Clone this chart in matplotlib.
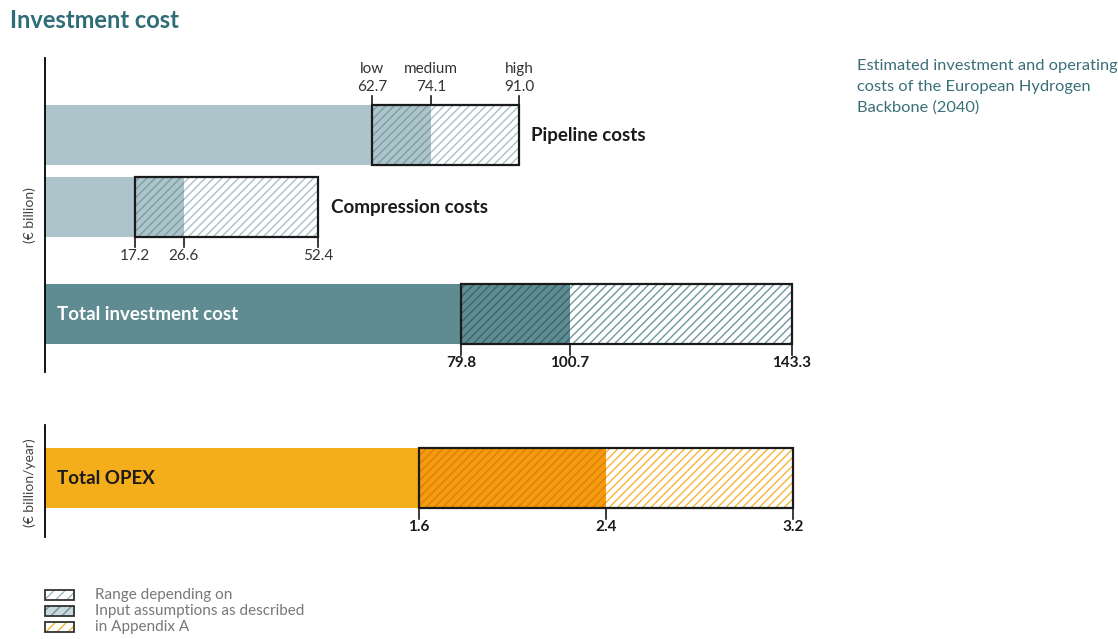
import matplotlib
matplotlib.use("Agg")
import matplotlib.pyplot as plt
from matplotlib.patches import Rectangle

plt.rcParams["font.family"] = ["Lato", "DejaVu Sans"]
plt.rcParams["hatch.linewidth"] = 1.0

# Investment cost ranges (€ billion)
categories = ["Pipeline costs", "Compression costs", "Total investment cost"]
low = [62.7, 17.2, 79.8]
medium = [74.1, 26.6, 100.7]
high = [91.0, 52.4, 143.3]
scenario_names = ["low", "medium", "high"]

# Operating cost range (€ billion / year)
opex_label = "Total OPEX"
opex_low = 1.6
opex_medium = 2.4
opex_high = 3.2

legend_lines = ["Range depending on", "Input assumptions as described", "in Appendix A"]

W, H = 1118, 639
fig = plt.figure(figsize=(W / 100, H / 100), dpi=100)

# colour schemes: (base fill, low-medium fill, low-medium hatch, medium-high hatch)
light = ("#adc4ca", "#adc4ca", "#7d9ea6", "#a8c0c6")
dark = ("#5f8c92", "#5f8c92", "#37666d", "#6e989e")
amber = ("#f5ae1b", "#f39c12", "#e07f05", "#f3b537")

HATCH = "////"


def px_axes(x0, y0, x1, y1):
    ax = fig.add_axes([x0 / W, 1 - y1 / H, (x1 - x0) / W, (y1 - y0) / H])
    ax.set_ylim(y1 - y0, 0)
    for s in ("top", "right", "bottom"):
        ax.spines[s].set_visible(False)
    ax.spines["left"].set_linewidth(1.3)
    ax.set_xticks([])
    ax.set_yticks([])
    ax.patch.set_alpha(0)
    return ax


def range_bar(ax, yc, h, lo, mid, hi, colors):
    base, fill_lm, hatch_lm, hatch_mh = colors
    ax.barh(yc, lo, height=h, left=0, color=base, linewidth=0)
    ax.barh(yc, mid - lo, height=h, left=lo, facecolor=fill_lm,
            edgecolor=hatch_lm, hatch=HATCH, linewidth=0)
    ax.barh(yc, hi - mid, height=h, left=mid, facecolor="white",
            edgecolor=hatch_mh, hatch=HATCH, linewidth=0)
    ax.add_patch(Rectangle((lo, yc - h / 2), hi - lo, h, fill=False,
                           edgecolor="#1a1a1a", linewidth=1.6, zorder=5))


# ---- investment panel ----
top_y0 = 58
ax = px_axes(45, top_y0, 845, 372)
ax.set_xlim(0, 800 / 5.213)
bar_h = 60
centers = [135 - top_y0, 207 - top_y0, 314 - top_y0]
schemes = [light, light, dark]
for i, cat in enumerate(categories):
    range_bar(ax, centers[i], bar_h, low[i], medium[i], high[i], schemes[i])

# pipeline: ticks above with scenario names
yc = centers[0]
for name, v in zip(scenario_names, (low[0], medium[0], high[0])):
    ax.plot([v, v], [yc - bar_h / 2, yc - bar_h / 2 - 9], color="#1a1a1a", lw=1.2, clip_on=False)
    ax.text(v, yc - bar_h / 2 - 11, f"{name}\n{v:.1f}", ha="center", va="bottom",
            fontsize=11, color="#333333", linespacing=1.35)
ax.text(high[0] + 2.2, yc, categories[0], ha="left", va="center",
        fontsize=13.5, fontweight="bold", color="#1a1a1a")

# compression: ticks below
yc = centers[1]
for v in (low[1], medium[1], high[1]):
    ax.plot([v, v], [yc + bar_h / 2, yc + bar_h / 2 + 10], color="#1a1a1a", lw=1.2, clip_on=False)
    ax.text(v, yc + bar_h / 2 + 12, f"{v:.1f}", ha="center", va="top",
            fontsize=11, color="#333333")
ax.text(high[1] + 2.5, yc, categories[1], ha="left", va="center",
        fontsize=13.5, fontweight="bold", color="#1a1a1a")

# total investment: ticks below, bold values
yc = centers[2]
for v in (low[2], medium[2], high[2]):
    ax.plot([v, v], [yc + bar_h / 2, yc + bar_h / 2 + 11], color="#1a1a1a", lw=1.2, clip_on=False)
    ax.text(v, yc + bar_h / 2 + 12, f"{v:.1f}", ha="center", va="top",
            fontsize=11, fontweight="bold", color="#1a1a1a")
ax.text(2.3, yc, categories[2], ha="left", va="center",
        fontsize=13.5, fontweight="bold", color="white")

# ---- OPEX panel ----
bot_y0 = 425
ax2 = px_axes(45, bot_y0, 845, 537)
ax2.set_xlim(0, 800 / 233.75)
yc = 478 - bot_y0
range_bar(ax2, yc, bar_h, opex_low, opex_medium, opex_high, amber)
for v in (opex_low, opex_medium, opex_high):
    ax2.plot([v, v], [yc + bar_h / 2, yc + bar_h / 2 + 11], color="#1a1a1a", lw=1.2, clip_on=False)
    ax2.text(v, yc + bar_h / 2 + 12, f"{v:.1f}", ha="center", va="top",
             fontsize=11, fontweight="bold", color="#1a1a1a")
ax2.text(0.05, yc, opex_label, ha="left", va="center",
         fontsize=13.5, fontweight="bold", color="#1a1a1a")

# ---- texts ----
fig.text(10 / W, 1 - 20 / H, "Investment cost", ha="left", va="center",
         fontsize=17, fontweight="bold", color="#2e6d77")
fig.text(30 / W, 1 - 215 / H, "(€ billion)", rotation=90, ha="center", va="center",
         fontsize=10, color="#444444")
fig.text(30 / W, 1 - 483 / H, "(€ billion/year)", rotation=90, ha="center", va="center",
         fontsize=10, color="#444444")
fig.text(857 / W, 1 - 59 / H,
         "Estimated investment and operating\ncosts of the European Hydrogen\nBackbone (2040)",
         ha="left", va="top", fontsize=11.8, color="#3a6f79", linespacing=1.6)

# ---- legend ----
lax = fig.add_axes([0, 0, 1, 1])
lax.set_xlim(0, W)
lax.set_ylim(H, 0)
lax.axis("off")
lax.patch.set_alpha(0)
swatches = [("white", "#9fb9bf"), ("#c9d8dc", "#6f949c"), ("white", "#efb53a")]
for i, ((fc, hc), line) in enumerate(zip(swatches, legend_lines)):
    y = 590 + i * 16
    lax.add_patch(Rectangle((45, y), 29, 10, facecolor=fc, edgecolor=hc,
                            hatch="///", linewidth=0))
    lax.add_patch(Rectangle((45, y), 29, 10, fill=False, edgecolor="#333333", linewidth=1.3))
    lax.text(95, y + 5, line, ha="left", va="center", fontsize=11, color="#777777")

fig.savefig("out.png", dpi=100)
